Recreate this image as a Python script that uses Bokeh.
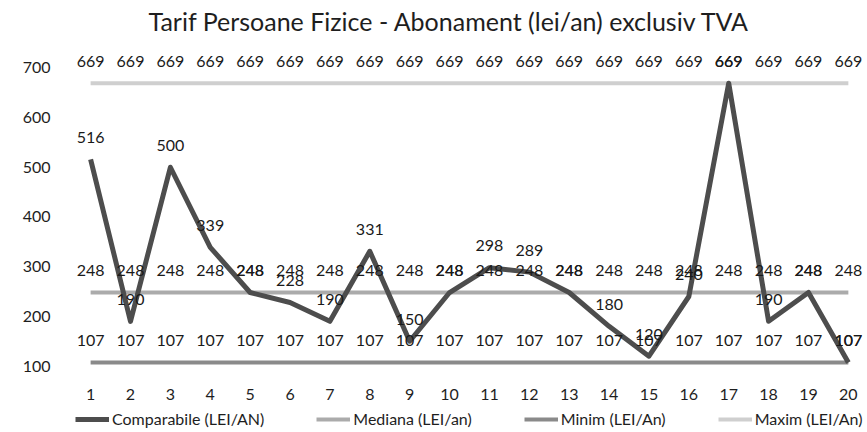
from bokeh.plotting import figure
from bokeh.layouts import column
from bokeh.models import Range1d, ColumnDataSource, Legend, LegendItem, FixedTicker
from bokeh.embed import file_html
from bokeh.resources import INLINE
from bokeh.core.properties import value

# ---- data ----
positions = [1, 2, 3, 4, 5, 6, 7, 8, 9, 10, 11, 12, 13, 14, 15, 16, 17, 18, 19, 20]
comparabile = [516, 190, 500, 339, 248, 228, 190, 331, 150, 248, 298, 289, 248, 180, 120, 240, 669, 190, 248, 107]
mediana = [248, 248, 248, 248, 248, 248, 248, 248, 248, 248, 248, 248, 248, 248, 248, 248, 248, 248, 248, 248]
minim = [107, 107, 107, 107, 107, 107, 107, 107, 107, 107, 107, 107, 107, 107, 107, 107, 107, 107, 107, 107]
maxim = [669, 669, 669, 669, 669, 669, 669, 669, 669, 669, 669, 669, 669, 669, 669, 669, 669, 669, 669, 669]
y_ticks = [100, 200, 300, 400, 500, 600, 700]
series_names = ["Comparabile (LEI/AN)", "Mediana (LEI/an)", "Minim (LEI/An)", "Maxim (LEI/An)"]
title_text = "Tarif Persoane Fizice - Abonament (lei/an) exclusiv TVA"

FONT = "Lato"
COLORS = ["#4d4d4d", "#ababab", "#8a8a8a", "#cfcfcf"]
WIDTHS = [5, 4, 4, 4]
COLS = ["comp", "med", "mn", "mx"]

p = figure(width=867, height=402, output_backend="svg", toolbar_location=None,
           x_range=Range1d(0.27, 20.48), y_range=Range1d(75, 751),
           min_border_left=61, min_border_right=0, min_border_top=40, min_border_bottom=24,
           title=title_text)
p.outline_line_color = None
p.xgrid.visible = False
p.ygrid.visible = False
p.background_fill_color = "white"
p.border_fill_color = "white"

p.title.text_font = FONT
p.title.text_font_size = "25px"
p.title.text_font_style = "normal"
p.title.text_color = "#1e1e1e"
p.title.align = "left"
p.title.offset = 87
p.title.vertical_align = "top"

for ax in (p.xaxis[0], p.yaxis[0]):
    ax.axis_line_color = None
    ax.major_tick_line_color = None
    ax.minor_tick_line_color = None
    ax.major_label_text_font = FONT
    ax.major_label_text_font_size = "16px"
    ax.major_label_text_color = "#1e1e1e"
p.xaxis[0].ticker = FixedTicker(ticks=positions)
p.yaxis[0].ticker = FixedTicker(ticks=y_ticks)
p.xaxis[0].major_label_standoff = 4
p.yaxis[0].major_label_standoff = 5

src = ColumnDataSource(dict(x=positions, comp=comparabile, med=mediana, mn=minim, mx=maxim,
                            comp_t=[str(v) for v in comparabile],
                            med_t=[str(v) for v in mediana],
                            mn_t=[str(v) for v in minim],
                            mx_t=[str(v) for v in maxim]))

for i in (3, 2, 1, 0):
    p.line("x", COLS[i], source=src, line_color=COLORS[i], line_width=WIDTHS[i], line_join="round")

for col in ("mx", "mn", "med", "comp"):
    p.text("x", col, text=col + "_t", source=src, text_align="center", text_baseline="middle",
           y_offset=-22, text_font=value(FONT), text_font_size="16px", text_color="#1a1a1a")

# ---- legend strip (separate figure below the chart; its lines fall outside its range) ----
lg = figure(width=867, height=30, output_backend="svg", toolbar_location=None,
            x_range=Range1d(0, 1), y_range=Range1d(0, 1),
            x_axis_location=None, y_axis_location=None,
            min_border_left=0, min_border_right=0, min_border_top=0, min_border_bottom=0)
lg.outline_line_color = None
lg.grid.visible = False
items = []
for name, c, w, col in zip(series_names, COLORS, WIDTHS, COLS):
    r = lg.line("x", col, source=src, line_color=c, line_width=w)
    items.append(LegendItem(label=name, renderers=[r]))

legend = Legend(items=items, orientation="horizontal", location=(14, 4),
                border_line_color=None, background_fill_alpha=0,
                label_text_font=FONT, label_text_font_size="16px", label_text_color="#1e1e1e",
                label_height=16, glyph_width=34, glyph_height=16, spacing=52, label_standoff=3,
                padding=0, margin=0)
lg.add_layout(legend)

layout = column(p, lg, spacing=0)
open("out.html", "w").write(file_html(layout, INLINE))
